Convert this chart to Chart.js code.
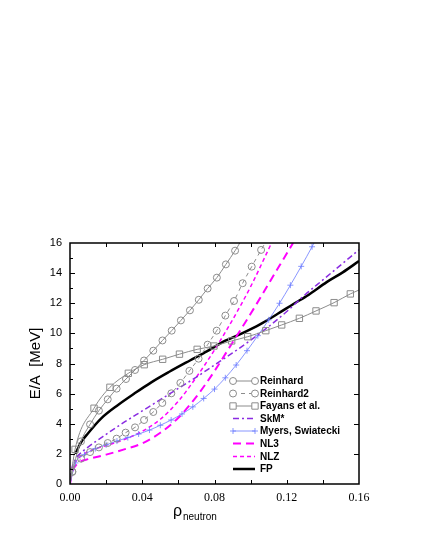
<!DOCTYPE html>
<html>
<head>
<meta charset="utf-8">
<script src="https://cdn.jsdelivr.net/npm/chart.js@4.4.1/dist/chart.umd.min.js"></script>
<style>
  body { margin: 0; background: #fff; }
  #wrap { width: 421px; height: 545px; }
</style>
</head>
<body>
<div id="wrap"><canvas id="chart" width="421" height="545"></canvas></div>
<script>
// tick labels
const rhoTicks = [0, 0.04, 0.08, 0.12, 0.16];
const eTicks = [0, 2, 4, 6, 8, 10, 12, 14, 16];

// Reinhard
const reinhardRho = [0, 0.0013, 0.0061, 0.0111, 0.0160, 0.0209, 0.0258, 0.0310, 0.0360, 0.0410, 0.0461, 0.0512, 0.0563, 0.0614, 0.0664, 0.0713, 0.0762, 0.0813, 0.0863, 0.0914, 0.0945];
const reinhardE = [0, 0.82, 2.83, 3.96, 4.87, 5.62, 6.33, 6.97, 7.57, 8.20, 8.85, 9.53, 10.18, 10.86, 11.53, 12.23, 12.98, 13.70, 14.58, 15.49, 16.1];

// Reinhard2
const reinhard2Rho = [0, 0.0013, 0.0061, 0.0111, 0.0160, 0.0209, 0.0258, 0.0308, 0.0360, 0.0410, 0.0461, 0.0511, 0.0561, 0.0611, 0.0661, 0.0712, 0.0762, 0.0812, 0.0860, 0.0908, 0.0956, 0.1006, 0.1058, 0.1085];
const reinhard2E = [0, 0.80, 1.68, 2.12, 2.43, 2.72, 3.01, 3.41, 3.76, 4.25, 4.78, 5.38, 6.02, 6.71, 7.51, 8.32, 9.25, 10.18, 11.18, 12.15, 13.33, 14.43, 15.54, 16.1];

// Fayans et al.
const fayansRho = [0, 0.0028, 0.0133, 0.0221, 0.0323, 0.0411, 0.0513, 0.0606, 0.0704, 0.0797, 0.0895, 0.0984, 0.1084, 0.1172, 0.1270, 0.1362, 0.1462, 0.1552, 0.16];
const fayansE = [0, 2.30, 5.03, 6.42, 7.35, 7.92, 8.28, 8.62, 8.94, 9.16, 9.50, 9.78, 10.18, 10.56, 11.00, 11.49, 12.04, 12.62, 12.88];

// SkM*
const skmRho = [0, 0.001, 0.003, 0.005, 0.01, 0.02, 0.03, 0.04, 0.05, 0.06, 0.07, 0.08, 0.09, 0.10, 0.11, 0.12, 0.13, 0.14, 0.15, 0.16];
const skmE = [0, 1.0, 1.65, 1.95, 2.45, 3.3, 4.1, 4.85, 5.6, 6.35, 7.1, 7.9, 8.7, 9.55, 10.45, 11.45, 12.55, 13.55, 14.55, 15.55];

// Myers, Swiatecki
const myersRho = [0, 0.003, 0.008, 0.014, 0.020, 0.026, 0.032, 0.038, 0.044, 0.050, 0.056, 0.062, 0.068, 0.074, 0.080, 0.086, 0.092, 0.098, 0.104, 0.110, 0.116, 0.122, 0.128, 0.134, 0.1355];
const myersE = [0, 1.4, 1.95, 2.35, 2.6, 2.85, 3.08, 3.32, 3.58, 3.9, 4.25, 4.65, 5.12, 5.68, 6.3, 7.05, 7.9, 8.85, 9.85, 10.9, 12.0, 13.2, 14.45, 15.75, 16.1];

// NL3
const nl3Rho = [0, 0.001, 0.003, 0.006, 0.01, 0.02, 0.03, 0.04, 0.05, 0.06, 0.07, 0.08, 0.09, 0.10, 0.11, 0.12, 0.1235];
const nl3E = [0, 0.7, 1.2, 1.5, 1.65, 1.95, 2.3, 2.7, 3.4, 4.4, 5.8, 7.5, 9.4, 11.3, 13.3, 15.3, 16.0];

// NLZ
const nlzRho = [0, 0.001, 0.003, 0.006, 0.01, 0.02, 0.03, 0.04, 0.05, 0.06, 0.07, 0.08, 0.09, 0.10, 0.11, 0.112];
const nlzE = [0, 0.9, 1.45, 1.85, 2.15, 2.55, 2.95, 3.5, 4.3, 5.5, 7.1, 8.9, 10.9, 13.1, 15.6, 16.1];

// FP
const fpRho = [0.003, 0.006, 0.01, 0.0173, 0.0266, 0.0358, 0.045, 0.055, 0.0664, 0.076, 0.0849, 0.0952, 0.1052, 0.115, 0.1237, 0.132, 0.1421, 0.151, 0.16];
const fpE = [2.0, 2.75, 3.37, 4.36, 5.25, 6.02, 6.75, 7.45, 8.2, 8.82, 9.45, 10.0, 10.6, 11.3, 11.95, 12.55, 13.4, 14.05, 14.8];

function pts(xs, ys) {
  return xs.map((x, i) => ({ x: x, y: ys[i] }));
}

// marker only on inner points, not on the padded ends
function innerRadius(xs, r) {
  return xs.map((x, i) => (i === 0 || i === xs.length - 1) ? 0 : r);
}

const gray = "#8c8c8c";
const violet = "#8a2be2";
const blue = "#6b7bff";
const magenta = "#ff00ff";

const datasets = [
  {
    label: "Reinhard", data: pts(reinhardRho, reinhardE),
    borderColor: gray, borderWidth: 1, pointStyle: "circle",
    pointRadius: innerRadius(reinhardRho, 3.5), pointBorderColor: gray,
    pointBackgroundColor: "rgba(0,0,0,0)", pointBorderWidth: 1,
  },
  {
    label: "Reinhard2", data: pts(reinhard2Rho, reinhard2E),
    borderColor: gray, borderWidth: 1, borderDash: [4, 4], pointStyle: "circle",
    pointRadius: innerRadius(reinhard2Rho, 3.5), pointBorderColor: gray,
    pointBackgroundColor: "rgba(0,0,0,0)", pointBorderWidth: 1,
  },
  {
    label: "Fayans et al.", data: pts(fayansRho, fayansE),
    borderColor: gray, borderWidth: 1, pointStyle: "rect",
    pointRadius: innerRadius(fayansRho, 4.5), pointBorderColor: gray,
    pointBackgroundColor: "rgba(0,0,0,0)", pointBorderWidth: 1,
  },
  {
    label: "SkM*", data: pts(skmRho, skmE),
    borderColor: violet, borderWidth: 1.5, borderDash: [6, 3, 2, 3], pointRadius: 0,
  },
  {
    label: "Myers, Swiatecki", data: pts(myersRho, myersE),
    borderColor: blue, borderWidth: 0.8, pointStyle: "cross",
    pointRadius: innerRadius(myersRho, 3), pointBorderColor: blue, pointBorderWidth: 0.8,
  },
  {
    label: "NL3", data: pts(nl3Rho, nl3E),
    borderColor: magenta, borderWidth: 2, borderDash: [8, 5], pointRadius: 0,
  },
  {
    label: "NLZ", data: pts(nlzRho, nlzE),
    borderColor: magenta, borderWidth: 1.5, borderDash: [4, 3], pointRadius: 0,
  },
  {
    label: "FP", data: pts(fpRho, fpE),
    borderColor: "#000", borderWidth: 2.5, pointRadius: 0,
  },
];

datasets.forEach((ds) => {
  ds.showLine = true;
  ds.fill = false;
  ds.cubicInterpolationMode = "monotone";
  ds.clip = 0;
});

// frame, inward ticks, axis titles and the key
const decorations = {
  id: "decorations",
  afterDraw(chart) {
    const { ctx, chartArea: a, scales } = chart;
    const xs = scales.x;
    const ys = scales.y;
    ctx.save();
    ctx.strokeStyle = "#000";
    ctx.lineWidth = 1;
    ctx.setLineDash([]);
    ctx.beginPath();
    for (let i = 1; i < 8; i++) {
      const px = Math.round(xs.getPixelForValue(i * 0.02)) + 0.5;
      ctx.moveTo(px, a.bottom); ctx.lineTo(px, a.bottom - 4);
      ctx.moveTo(px, a.top); ctx.lineTo(px, a.top + 4);
    }
    for (let v = 1; v < 16; v++) {
      const py = Math.round(ys.getPixelForValue(v)) + 0.5;
      const len = v % 2 === 0 ? 5 : 3;
      ctx.moveTo(a.left, py); ctx.lineTo(a.left + len, py);
      if (v % 2 === 0) { ctx.moveTo(a.right, py); ctx.lineTo(a.right - 5, py); }
    }
    ctx.stroke();

    ctx.lineWidth = 1.5;
    ctx.strokeRect(a.left, a.top, a.right - a.left, a.bottom - a.top);

    // y title
    ctx.fillStyle = "#000";
    ctx.save();
    ctx.translate(40, (a.top + a.bottom) / 2);
    ctx.rotate(-Math.PI / 2);
    ctx.font = "15px 'Liberation Sans', Arial, sans-serif";
    ctx.textAlign = "center";
    ctx.textBaseline = "alphabetic";
    ctx.fillText("E/A  [MeV]", 0, 0);
    ctx.restore();

    // x title: rho with subscript
    ctx.textAlign = "left";
    ctx.textBaseline = "alphabetic";
    ctx.font = "16px 'Liberation Sans', Arial, sans-serif";
    ctx.fillText("ρ", 173, 516);
    ctx.font = "10px 'Liberation Sans', Arial, sans-serif";
    ctx.fillText("neutron", 183, 519.5);

    // key
    const x0 = 233, x1 = 255, tx = 260;
    const rowY = [381, 393.5, 406, 418.5, 431, 443.5, 456.5, 469];
    ctx.font = "bold 10px 'Liberation Sans', Arial, sans-serif";
    ctx.textBaseline = "middle";
    chart.data.datasets.forEach((ds, i) => {
      const y = rowY[i];
      ctx.strokeStyle = ds.borderColor;
      ctx.lineWidth = ds.borderWidth;
      ctx.setLineDash(ds.borderDash || []);
      ctx.beginPath();
      ctx.moveTo(x0, y); ctx.lineTo(x1, y);
      ctx.stroke();
      ctx.setLineDash([]);
      const r = Math.max(...[].concat(ds.pointRadius));
      if (r > 0) {
        ctx.lineWidth = ds.pointBorderWidth || 1;
        [x0, x1].forEach((px) => {
          ctx.beginPath();
          if (ds.pointStyle === "circle") {
            ctx.fillStyle = "#fff";
            ctx.arc(px, y, r, 0, Math.PI * 2);
            ctx.fill();
            ctx.stroke();
          } else if (ds.pointStyle === "rect") {
            const s = r * Math.SQRT1_2;
            ctx.fillStyle = "#fff";
            ctx.rect(px - s, y - s, 2 * s, 2 * s);
            ctx.fill();
            ctx.stroke();
          } else {
            ctx.moveTo(px - r, y); ctx.lineTo(px + r, y);
            ctx.moveTo(px, y - r); ctx.lineTo(px, y + r);
            ctx.stroke();
          }
        });
      }
      ctx.fillStyle = "#000";
      ctx.fillText(ds.label, tx, y + 0.5);
    });
    ctx.restore();
  },
};

new Chart(document.getElementById("chart"), {
  type: "scatter",
  data: { datasets },
  options: {
    responsive: false,
    animation: false,
    devicePixelRatio: 1,
    layout: { padding: { left: 0, top: 243, right: 62, bottom: 31 } },
    plugins: { legend: { display: false }, tooltip: { enabled: false } },
    scales: {
      x: {
        type: "linear", min: 0, max: 0.16,
        grid: { display: false, drawTicks: false }, border: { display: false },
        afterBuildTicks: (s) => { s.ticks = rhoTicks.map((v) => ({ value: v })); },
        afterFit: (s) => { s.height = 30; },
        ticks: {
          padding: 7, color: "#000",
          font: { family: "'Liberation Serif', 'Times New Roman', serif", size: 12 },
          callback: (v) => v.toFixed(2),
        },
      },
      y: {
        type: "linear", min: 0, max: 16,
        grid: { display: false, drawTicks: false }, border: { display: false },
        afterBuildTicks: (s) => { s.ticks = eTicks.map((v) => ({ value: v })); },
        afterFit: (s) => { s.width = 70; },
        ticks: {
          padding: 8, color: "#000",
          font: { family: "'Liberation Sans', Arial, sans-serif", size: 11 },
        },
      },
    },
  },
  plugins: [decorations],
});
</script>
</body>
</html>
